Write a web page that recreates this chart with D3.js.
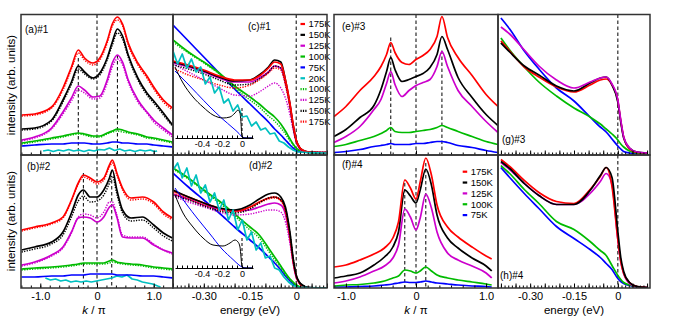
<!DOCTYPE html>
<html>
<head>
<meta charset="utf-8">
<script src="https://cdn.jsdelivr.net/npm/d3@7/dist/d3.min.js"></script>
<style>
body { margin: 0; background: #fff; }
svg { display: block; font-family: "Liberation Sans", Arial, Helvetica, sans-serif; }
</style>
</head>
<body>
<svg id="fig" width="678" height="326"></svg>
<script>
// series colours, by temperature
var tempColor = {"175K":"#ff0000","150K":"#000000","125K":"#cc00cc","100K":"#00bb00","75K":"#0000ff","20K":"#00c0c0"};

// (a) #1, momentum distribution
var kA = [-1.33,-1.1,-0.8,-0.6,-0.45,-0.33,-0.22,-0.07,0.05,0.18,0.27,0.36,0.45,0.55,0.72,0.88,1.0,1.17,1.33];
var a175 = [38,39,46,65,86,103,95,90,95,112,129,136,129,110,90,77,66,53,45];
var a150 = [24,25,33,53,71,87,81,75,80,95,111,124,117,98,75,60,52,40,28];
var a125 = [13,16,25,41,55,67,63,56,57,73,90,98,91,73,53,41,33,25,18];
var a100 = [10,12,15,17,19,20,19,17,17,20,22,24,23,21,19,16,15,13,11];
var a75  = [7,8,9,9,10,10,10,9,9,10,11,11,10,10,9,9,8,7,6];
var a175d = [37,38,45,63,84,100,93,88,93,110,127,133,127,108,88,75,64,51,43];
var a150d = [23,24,32,51,69,84,79,74,78,93,108,120,114,96,73,58,50,38,27];
var a125d = [12,15,24,39,52,63,60,54,55,70,86,94,88,71,51,40,31,23,16];
var a100d = [9,11,14,16,18,19,18,16,16,19,21,22,21,20,18,15,14,12,10];
var kA20 = [-0.95,-0.86,-0.77,-0.68,-0.59,-0.5,-0.41,-0.32,-0.23,-0.14,-0.05,0.04,0.13,0.22,0.31,0.4,0.49,0.58,0.67,0.76,0.85,0.94,1.01,1.06];
var a20  = [2,3,1.5,3,2,3.5,2,3,1.5,3,2,3.5,3,5,2.5,4,2,3,1.5,3,2,3,1.5,2];

// (b) #2
var kB = [-1.33,-1.1,-0.8,-0.6,-0.45,-0.33,-0.24,-0.12,0,0.12,0.22,0.27,0.35,0.45,0.6,0.8,1.0,1.17,1.33];
var b175 = [58,61,65,71,88,105,113,110,106,110,123,128,115,100,90,91,86,76,70];
var b150 = [38,41,46,56,75,93,98,91,91,98,110,118,98,78,70,71,63,55,50];
var b125 = [23,26,33,41,56,70,71,70,66,71,81,83,71,51,50,50,43,38,35];
var b100 = [19,20,21,22,23,24,25,25,25,25,27,28,26,25,24,23,21,20,19];
var b75  = [11,11,12,12,13,13,13,14,14,14,14,14,13,13,13,12,12,11,10];
var b175d = [57,60,64,70,87,104,111,108,104,108,121,125,113,98,88,89,84,74,68];
var b150d = [36,39,44,53,71,87,92,86,87,93,105,112,94,75,67,68,60,52,47];
var b125d = [22,25,32,40,55,71,74,73,70,76,86,86,73,53,51,51,44,38,34];
var b100d = [18,19,20,21,22,23,24,24,24,24,25,26,25,24,23,22,20,19,18];
var kB20 = [-0.91,-0.82,-0.73,-0.64,-0.55,-0.46,-0.37,-0.28,-0.19,-0.1,-0.01,0.08,0.17,0.26,0.35,0.44,0.53,0.62,0.71,0.8,0.89,0.98,1.07,1.12];
var b20  = [10,8,9,7,8,6,7,6,7,6,7,8,9,10,12,11,13,9,8,6,5,4,2,1];

// (c) #1 and (d) #2, energy distribution curves
var eC = [-0.40,-0.35,-0.30,-0.25,-0.20,-0.15,-0.12,-0.09,-0.07,-0.05,-0.035,-0.02,-0.01,0,0.01,0.02,0.04,0.10];
var c175 = [92,88,83,77,73,73,77,85,91,89,73,49,29,13,6,3,1,0.5];
var c150 = [91,87,82,76,72,73,78,86,93,91,73,48,28,13,6,3,1,0.5];
var c125 = [90,86,81,75,71,71,75,81,87,85,70,47,27,12,5,2,1,0.5];
var c100 = [113,101,91,80,67,56,49,41,36,29,22,14,9,5,3,1.5,0.5,0];
var c75  = [128,112,96,80,64,49,40,31,24,18,13,8,5,2.5,1.5,1,0.5,0];
var c100d = [111,100,90,79,65,53,46,37,32,25,19,12,8,4,2,1,0.5,0];
var c125d = [89,81,73,65,58,57,61,67,70,65,55,38,23,11,5,2.5,1,0.5];
var c150d = [88,84,79,73,68,69,74,81,87,85,70,47,27,12,6,3,1,0.5];
var c175d = [85,78,73,68,65,68,73,80,85,83,68,45,27,12,6,3,1,0.5];
var d175 = [97,91,85,80,77,81,86,90,91,88,78,51,27,12,5,2,0.5,0];
var d150 = [98,91,85,80,78,83,89,94,95,91,81,55,30,13,6,3,0.5,0];
var d125 = [94,89,83,79,77,78,81,84,85,83,74,48,26,11,5,2,0.5,0];
var d100 = [120,110,98,87,74,61,53,40,31,22,15,9,6,3,1.5,1,0.5,0];
var d75  = [115,101,88,75,61,48,40,31,25,18,12,7,4,2,1,0.5,0,0];
var d100d = [119,109,97,85,72,58,50,37,28,20,13,8,5,2.5,1.2,0.8,0.4,0];
var d125d = [92,86,81,76,73,74,76,78,78,76,66,44,25,11,5,2,0.5,0];
var d150d = [93,88,82,77,75,79,85,90,91,88,79,54,30,13,6,3,0.5,0];
var d175d = [95,89,83,78,76,80,85,89,90,87,77,51,28,12,5,2,0.5,0];
var eC20 = [-0.400,-0.385,-0.370,-0.355,-0.340,-0.325,-0.310,-0.295,-0.280,-0.265,-0.250,-0.235,-0.220,-0.205,-0.190,-0.175,-0.160,-0.145,-0.130,-0.115,-0.100,-0.085,-0.070,-0.055,-0.040,-0.025,-0.010,0.005,0.040,0.100];
var c20 = [102,89,99,85,94,81,86,69,76,60,66,50,54,42,48,36,37,27,31,23,25,19,20,12,10,6,3,1,0.5,0];
var d20 = [118,125,110,120,102,113,95,103,86,95,78,88,68,78,58,68,48,56,38,45,30,32,20,18,11,6,2.5,1,0.5,0];

// insets of (c) and (d)
var eIn150 = [-0.67,-0.59,-0.49,-0.39,-0.29,-0.19,-0.12,-0.07,-0.04,-0.02,-0.01,0,0.03,0.1];
var insC150 = [71,55,41,31,23,20,21,25,28,25,15,1,0,0];
var insD150 = [73,55,41,30,23,22,25,28,26,21,11,1,0,0];
var eIn75 = [-0.67,-0.55,-0.45,-0.32,-0.2,-0.09,-0.03,0,0.05,0.1];
var insC75 = [67,55,44.5,31,19.5,10,4.5,1,0,0];
var insD75 = [80,63,50,34,19,8.5,3,1,0,0];

// (e) #3 and (f) #4
var kE = [-1.17,-1.0,-0.8,-0.6,-0.5,-0.42,-0.36,-0.3,-0.2,-0.1,0,0.1,0.2,0.3,0.37,0.45,0.6,0.8,1.0,1.17];
var e175 = [38,48,64,78,88,100,112,102,92,90,95,99,105,118,138,117,97,79,60,48];
var e150 = [18,25,37,49,65,83,97,85,73,75,78,81,87,100,118,105,77,57,40,29];
var e125 = [12,18,28,45,55,71,83,70,58,64,69,72,75,88,103,88,64,48,33,22];
var e100 = [8,10,14,18,21,24,27,23,22,22,23,24,25,27,29,27,23,18,13,10];
var e75  = [2,3,5,8,9,10,11,10,10,10,11,11,12,13,13,12,9,7,4,2];
var kF = [-1.17,-1.0,-0.8,-0.6,-0.45,-0.33,-0.25,-0.16,-0.08,0,0.06,0.14,0.22,0.3,0.45,0.6,0.8,1.0,1.08];
var f175 = [21,23,28,34,40,50,66,108,100,89,106,130,113,83,61,51,41,32,29];
var f150 = [10,12,15,23,31,41,56,98,92,85,98,119,103,73,50,40,30,22,17];
var f125 = [5,7,11,17,22,30,43,79,71,58,70,94,80,56,35,28,22,15,10];
var f100 = [2,3,3.5,5,7,10,12,18,17,15,17,21,17,13,10,8,6,4,3];
var f75  = [1,1,1.5,2,3,4,5,6,5.5,5.5,6,7,6,5,4,3,2,1.5,1];

// (g) #3 and (h) #4
var eG = [-0.40,-0.37,-0.32,-0.27,-0.21,-0.15,-0.095,-0.06,-0.04,-0.02,0,0.01,0.02,0.04,0.065,0.10];
var g175 = [113.5,103.5,87.5,77.5,67.5,62.5,69.5,74.5,75.5,69.5,53.5,33.5,17.5,5.5,2,1.5];
var g150 = [111.5,102.5,88.5,79.5,68.5,63.5,71.5,76.5,77.5,69.5,52.5,32.5,16.5,6.5,2.5,1.5];
var g125 = [127.5,120.5,104.5,88.5,74.5,66.5,72.5,76.5,77.5,70.5,54.5,34.5,17.5,6.5,2.5,1.5];
var g100 = [116.5,104.5,87.5,72.5,58.5,46.5,37.5,30.5,25.5,20.5,14.5,10.5,7.5,3.5,1.5,1];
var g75  = [136.5,125.5,103.5,85.5,66.5,53.5,37.5,27.5,22.5,15.5,8.5,5.5,3,1.5,1,1];
var h175 = [128.5,121.5,107.5,95.5,86.5,84.5,98.5,111.5,120.5,101.5,48.5,26.5,14.5,5.5,1.5,0.5];
var h150 = [126.5,119.5,104.5,92.5,83.5,83.5,97.5,112.5,120.5,110.5,56.5,30.5,16.5,5.5,1.5,0.5];
var h125 = [125.5,118.5,104.5,92.5,83.5,83.5,94.5,106.5,114.5,103.5,48.5,26.5,14.5,4.5,1.5,0.5];
var h100 = [122.5,114.5,98.5,84.5,66.5,58.5,46.5,37.5,32.5,22.5,12.5,8.5,5.5,3,1.5,0.5];
var h75  = [120.5,110.5,94.5,79.5,61.5,49.5,38.5,30.5,24.5,18.5,9.5,6.5,4.5,2.5,1,0.5];

// legends
var legendC = ["175K","150K","125K","100K","75K","20K","100K","125K","150K","175K"];
var legendCDotted = [false,false,false,false,false,false,true,true,true,true];
var legendF = ["175K","150K","125K","100K","75K"];

var svg = d3.select("#fig");
var clipN = 0;

function panel(left, right, top, bottom, xDom, yDom) {
  var id = "clip" + (clipN++);
  svg.append("clipPath").attr("id", id).append("rect")
    .attr("x", left).attr("y", top).attr("width", right - left).attr("height", bottom - top);
  var P = {
    x: d3.scaleLinear().domain(xDom).range([left, right]),
    y: d3.scaleLinear().domain(yDom).range([bottom, top]),
    left: left, right: right, top: top, bottom: bottom
  };
  P.g = svg.append("g");
  P.plot = P.g.append("g").attr("clip-path", "url(#" + id + ")");
  return P;
}

function curve(P, xs, ys, t, dotted, interp) {
  var line = d3.line()
    .x(function(d, i) { return P.x(xs[i]); })
    .y(function(d) { return P.y(d); })
    .curve(interp || d3.curveMonotoneX);
  P.plot.append("path").datum(ys)
    .attr("d", line)
    .attr("fill", "none")
    .attr("stroke", tempColor[t])
    .attr("stroke-width", dotted ? 1.4 : 1.7)
    .attr("stroke-dasharray", dotted ? "1.3,1.3" : null)
    .attr("stroke-linejoin", "round");
}

function vdash(P, xv, yv) {
  P.plot.append("line")
    .attr("x1", P.x(xv)).attr("x2", P.x(xv))
    .attr("y1", yv == null ? P.top : P.y(yv)).attr("y2", P.bottom)
    .attr("stroke", "#000").attr("stroke-width", 1).attr("stroke-dasharray", "3.5,2.5");
}

function frame(P) {
  P.g.append("rect")
    .attr("x", P.left).attr("y", P.top)
    .attr("width", P.right - P.left).attr("height", P.bottom - P.top)
    .attr("fill", "none").attr("stroke", "#333").attr("stroke-width", 1.5);
}

function label(x, y, t, size) {
  svg.append("text").attr("x", x).attr("y", y).attr("font-size", size || 10).text(t);
}

function bottomTicks(P, minor, major, fmt) {
  var gm = P.g.append("g").attr("transform", "translate(0," + P.bottom + ")")
    .call(d3.axisBottom(P.x).tickValues(minor).tickSize(-2.5).tickSizeOuter(0).tickFormat(""));
  gm.select(".domain").remove();
  var gM = P.g.append("g").attr("transform", "translate(0," + P.bottom + ")")
    .call(d3.axisBottom(P.x).tickValues(major).tickSize(-4.5).tickSizeOuter(0).tickPadding(4)
      .tickFormat(fmt || function() { return ""; }));
  gM.select(".domain").remove();
  gM.attr("font-family", null).attr("font-size", 11);
}

function kTicks(P, labelled) {
  var d = P.x.domain();
  var minor = d3.range(Math.ceil(d[0] * 6), Math.floor(d[1] * 6) + 1).map(function(i) { return i / 6; });
  var fmt = labelled ? function(v) { return v === 0 ? "0" : (v < 0 ? "-" : "") + Math.abs(v).toFixed(1); } : null;
  bottomTicks(P, minor, [-1, 0, 1], fmt);
}

function eTicks(P, labelled) {
  var d = P.x.domain();
  var minor = d3.range(Math.ceil(d[0] * 80), Math.floor(d[1] * 80) + 1).map(function(i) { return i / 80; });
  var major = d3.range(Math.ceil(d[0] * 20), Math.floor(d[1] * 20) + 1).map(function(i) { return i / 20; });
  var fmt = labelled ? function(v) {
    var n = Math.round(v * 100);
    if (n === 0) return "0";
    if (n === -30 || n === -15) return "-" + Math.abs(v).toFixed(2);
    return "";
  } : null;
  bottomTicks(P, minor, major, fmt);
}

function inset(P, base, e150, v150, e75, v75) {
  var x = d3.scaleLinear().domain([-0.67, 0.11]).range([175, 253]);
  var y = d3.scaleLinear().domain([0, 80]).range([base, base - 80]);
  var g = P.g.append("g");
  var line = function(xs) {
    return d3.line().x(function(d, i) { return x(xs[i]); }).y(function(d) { return y(d); }).curve(d3.curveMonotoneX);
  };
  g.append("path").datum(v75).attr("d", line(e75)).attr("fill", "none").attr("stroke", "#0000ff").attr("stroke-width", 1);
  g.append("path").datum(v150).attr("d", line(e150)).attr("fill", "none").attr("stroke", "#000").attr("stroke-width", 1);
  g.append("line").attr("x1", x(0)).attr("x2", x(0)).attr("y1", y(30)).attr("y2", base)
    .attr("stroke", "#000").attr("stroke-width", 1).attr("stroke-dasharray", "3,2");
  var ax = g.append("g").attr("transform", "translate(0," + base + ")")
    .call(d3.axisBottom(x).tickValues(d3.range(-13, 3).map(function(i) { return i / 20; }))
      .tickSize(-2.5).tickSizeOuter(0).tickPadding(3)
      .tickFormat(function(v) {
        var n = Math.round(v * 10);
        if (Math.abs(v * 10 - n) > 1e-6) return "";
        return n === 0 ? "0" : (n === -2 || n === -4) ? "-" + Math.abs(v).toFixed(1) : "";
      }));
  ax.attr("font-family", null).attr("font-size", 9);
  ax.select(".domain").attr("stroke-width", 1);
}

function legend(P, x, y0, names, dotted) {
  var g = P.g.append("g");
  names.forEach(function(t, i) {
    var y = y0 + i * 10.85;
    g.append("line").attr("x1", x).attr("x2", x + (dotted && dotted[i] ? 6 : 4.5)).attr("y1", y).attr("y2", y)
      .attr("stroke", tempColor[t]).attr("stroke-width", 2.2)
      .attr("stroke-dasharray", dotted && dotted[i] ? "1.2,1.2" : null);
    g.append("text").attr("x", x + 8).attr("y", y).attr("dy", "0.35em").attr("font-size", 9.5).text(t);
  });
}

var TOP = 14.5, MID = 155, BOT = 288;

// ---- (a)
var A = panel(21, 173, TOP, MID, [-1.34, 1.34], [-2, 138.5]);
vdash(A, 0); vdash(A, -0.33, 95); vdash(A, 0.36, 98);
curve(A, kA20, a20, "20K", false, d3.curveLinear);
curve(A, kA, a75, "75K");
curve(A, kA, a100d, "100K", true); curve(A, kA, a100, "100K");
curve(A, kA, a125d, "125K", true); curve(A, kA, a125, "125K");
curve(A, kA, a150d, "150K", true); curve(A, kA, a150, "150K");
curve(A, kA, a175d, "175K", true); curve(A, kA, a175, "175K");
kTicks(A, false); frame(A);

// ---- (b)
var B = panel(21, 173, MID, BOT, [-1.34, 1.34], [0, 133]);
vdash(B, 0); vdash(B, -0.24, 115); vdash(B, 0.26, 108);
curve(B, kB20, b20, "20K", false, d3.curveLinear);
curve(B, kB, b75, "75K");
curve(B, kB, b100d, "100K", true); curve(B, kB, b100, "100K");
curve(B, kB, b125d, "125K", true); curve(B, kB, b125, "125K");
curve(B, kB, b150d, "150K", true); curve(B, kB, b150, "150K");
curve(B, kB, b175d, "175K", true); curve(B, kB, b175, "175K");
kTicks(B, true); frame(B);

// ---- (c)
var C = panel(173, 327, TOP, MID, [-0.40, 0.10], [-2, 138.5]);
vdash(C, 0);
curve(C, eC, c75, "75K");
curve(C, eC, c100d, "100K", true); curve(C, eC, c100, "100K");
curve(C, eC, c125d, "125K", true); curve(C, eC, c125, "125K");
curve(C, eC, c150d, "150K", true); curve(C, eC, c150, "150K");
curve(C, eC, c175d, "175K", true); curve(C, eC, c175, "175K");
curve(C, eC20, c20, "20K", false, d3.curveLinear);
inset(C, 138, eIn150, insC150, eIn75, insC75);
legend(C, 300.5, 24, legendC, legendCDotted);
eTicks(C, false); frame(C);

// ---- (d)
var D = panel(173, 327, MID, BOT, [-0.40, 0.10], [0, 133]);
vdash(D, 0);
curve(D, eC, d75, "75K");
curve(D, eC, d100d, "100K", true); curve(D, eC, d100, "100K");
curve(D, eC, d125d, "125K", true); curve(D, eC, d125, "125K");
curve(D, eC, d175d, "175K", true); curve(D, eC, d175, "175K");
curve(D, eC, d150d, "150K", true); curve(D, eC, d150, "150K");
curve(D, eC20, d20, "20K", false, d3.curveLinear);
inset(D, 268, eIn150, insD150, eIn75, insD75);
eTicks(D, true); frame(D);

// ---- (e)
var E = panel(334, 498, TOP, MID, [-1.17, 1.17], [-0.5, 140]);
vdash(E, 0); vdash(E, -0.36, 117); vdash(E, 0.37, 104);
curve(E, kE, e75, "75K"); curve(E, kE, e100, "100K"); curve(E, kE, e125, "125K");
curve(E, kE, e150, "150K"); curve(E, kE, e175, "175K");
kTicks(E, false); frame(E);

// ---- (f)
var F = panel(334, 498, MID, BOT, [-1.17, 1.17], [0, 133]);
vdash(F, 0, 120); vdash(F, -0.16, 105); vdash(F, 0.14, 125);
curve(F, kF, f75, "75K"); curve(F, kF, f100, "100K"); curve(F, kF, f125, "125K");
curve(F, kF, f150, "150K"); curve(F, kF, f175, "175K");
legend(F, 462.7, 171.7, legendF);
kTicks(F, true); frame(F);

// ---- (g)
var G = panel(498, 650, TOP, MID, [-0.41, 0.11], [-0.5, 140]);
vdash(G, 0);
curve(G, eG, g75, "75K"); curve(G, eG, g100, "100K"); curve(G, eG, g175, "175K");
curve(G, eG, g150, "150K"); curve(G, eG, g125, "125K");
eTicks(G, false); frame(G);

// ---- (h)
var H = panel(498, 650, MID, BOT, [-0.41, 0.11], [0, 133]);
vdash(H, 0);
curve(H, eG, h75, "75K"); curve(H, eG, h100, "100K"); curve(H, eG, h125, "125K");
curve(H, eG, h175, "175K"); curve(H, eG, h150, "150K");
eTicks(H, true); frame(H);

// panel tags
label(25, 33, "(a)#1"); label(27, 170, "(b)#2");
label(248, 30, "(c)#1"); label(249, 169, "(d)#2");
label(342, 30, "(e)#3"); label(342, 168, "(f)#4");
label(502, 143, "(g)#3"); label(500, 279, "(h)#4");

// axis titles
[85, 221].forEach(function(cy) {
  svg.append("text").attr("transform", "translate(15," + cy + ") rotate(-90)")
    .attr("text-anchor", "middle").attr("font-size", 11.5).text("intensity (arb. units)");
});
function kTitle(cx) {
  var t = svg.append("text").attr("x", cx).attr("y", 314).attr("text-anchor", "middle").attr("font-size", 11.5);
  t.append("tspan").attr("font-style", "italic").text("k");
  t.append("tspan").text(" / \u03c0");
}
kTitle(94); kTitle(416);
svg.append("text").attr("x", 250).attr("y", 314).attr("text-anchor", "middle").attr("font-size", 11.5).text("energy (eV)");
svg.append("text").attr("x", 574).attr("y", 314).attr("text-anchor", "middle").attr("font-size", 11.5).text("energy (eV)");
</script>
</body>
</html>
